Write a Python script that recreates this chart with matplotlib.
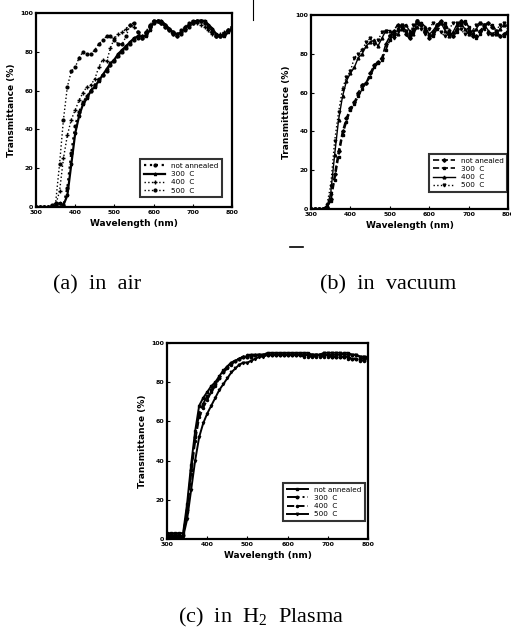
import matplotlib
matplotlib.use("Agg")
import matplotlib.pyplot as plt
from matplotlib.lines import Line2D

W, H = 511, 630

# wavelength grid (nm), shared by every curve
wavelength = list(range(300, 801, 10))

# ---- (a) in air ----
air_not_annealed = [0, 0, 0, 0, 0, 0, 0, 1, 10, 28, 42, 49, 54, 57, 60, 63, 66, 68, 70, 73,
                    75, 78, 80, 82, 84, 86, 87, 87, 89, 93, 96, 96, 95, 93, 91, 89, 88, 89, 91, 93,
                    95, 96, 96, 95, 93, 90, 88, 88, 89, 91, 93]
air_300 = [0, 0, 0, 0, 0, 1, 2, 1, 6, 22, 38, 47, 53, 56, 60, 62, 65, 68, 71, 74,
           76, 79, 81, 83, 85, 87, 88, 88, 88, 91, 95, 96, 96, 94, 92, 90, 89, 90, 92, 94,
           95, 96, 96, 96, 94, 92, 89, 88, 88, 90, 92]
air_400 = [0, 0, 0, 0, 0, 1, 8, 25, 37, 45, 50, 55, 59, 62, 63, 66, 72, 76, 75, 82,
           87, 89, 90, 92, 94, 93, 90, 88, 90, 93, 95, 96, 95, 93, 91, 89, 88, 90, 92, 94,
           95, 95, 94, 93, 91, 89, 88, 89, 90, 91, 92]
air_500 = [0, 0, 0, 0, 1, 2, 22, 45, 62, 70, 72, 77, 80, 79, 79, 81, 84, 86, 88, 88,
           86, 84, 84, 88, 94, 95, 90, 87, 90, 94, 96, 96, 95, 94, 92, 90, 89, 91, 93, 95,
           96, 96, 96, 95, 93, 90, 88, 88, 89, 91, 92]

# ---- (b) in vacuum ----
vac_not_annealed = [0, 0, 0, 0, 1, 5, 18, 30, 40, 47, 52, 55, 60, 64, 65, 70, 74, 76, 78, 85,
                    89, 92, 95, 94, 90, 88, 93, 97, 95, 91, 88, 90, 95, 97, 94, 90, 89, 93, 97, 96,
                    92, 89, 89, 92, 95, 96, 94, 91, 89, 90, 92]
vac_300 = [0, 0, 0, 0, 1, 4, 15, 27, 38, 45, 51, 54, 58, 62, 65, 68, 73, 75, 77, 82,
           87, 90, 93, 95, 92, 89, 91, 96, 96, 93, 89, 89, 93, 96, 96, 92, 89, 91, 95, 97,
           94, 90, 88, 90, 94, 96, 95, 92, 89, 89, 91]
vac_400 = [0, 0, 0, 0, 1, 8, 28, 46, 58, 66, 70, 73, 78, 80, 84, 86, 87, 84, 88, 92,
           92, 89, 90, 93, 95, 92, 90, 94, 96, 94, 90, 92, 95, 96, 92, 89, 91, 95, 96, 93,
           90, 90, 93, 96, 95, 92, 90, 90, 93, 95, 94]
vac_500 = [0, 0, 0, 0, 2, 12, 35, 50, 62, 68, 71, 78, 80, 82, 86, 88, 85, 87, 91, 92,
           89, 88, 92, 95, 92, 90, 95, 97, 93, 90, 93, 96, 95, 91, 89, 92, 96, 96, 93, 90,
           90, 92, 95, 96, 93, 90, 90, 92, 95, 96, 95]

# ---- (c) in H2 plasma ----
h2_not_annealed = [3, 3, 3, 3, 3, 18, 38, 55, 68, 72, 75, 78, 80, 83, 86, 88, 90, 91, 92, 93,
                   93, 94, 94, 94, 94, 95, 95, 95, 95, 95, 95, 95, 95, 95, 95, 95, 94, 94, 94, 94,
                   94, 94, 94, 94, 95, 95, 94, 94, 93, 93, 92]
h2_300 = [2, 2, 2, 2, 2, 15, 35, 52, 64, 69, 73, 76, 79, 82, 85, 88, 90, 91, 92, 93,
          93, 93, 94, 94, 94, 94, 94, 94, 94, 94, 94, 94, 94, 94, 94, 94, 94, 94, 94, 94,
          94, 93, 93, 93, 93, 93, 92, 92, 92, 92, 92]
h2_400 = [1, 1, 1, 1, 2, 14, 33, 50, 62, 67, 71, 75, 78, 82, 85, 87, 89, 91, 92, 93,
          94, 94, 94, 94, 94, 94, 94, 94, 94, 94, 94, 94, 94, 94, 93, 93, 93, 93, 93, 93,
          93, 93, 93, 93, 93, 92, 92, 92, 91, 91, 91]
h2_500 = [1, 1, 1, 1, 1, 10, 25, 40, 52, 59, 64, 68, 72, 76, 79, 82, 85, 87, 89, 90,
          90, 91, 92, 93, 93, 94, 94, 94, 94, 94, 94, 94, 94, 94, 94, 94, 94, 94, 94, 95,
          95, 95, 95, 95, 94, 94, 94, 94, 93, 93, 93]

x_ticks = [300, 400, 500, 600, 700, 800]
y_ticks = [0, 20, 40, 60, 80, 100]

plt.rcParams["mathtext.fontset"] = "custom"
plt.rcParams["mathtext.rm"] = "Liberation Serif"

fig = plt.figure(figsize=(W / 100, H / 100), dpi=100)


def px_axes(left, top, right, bottom):
    return fig.add_axes([left / W, 1 - bottom / H, (right - left) / W, (bottom - top) / H])


def style_axes(ax, weight="bold"):
    ax.set_xlim(300, 800)
    ax.set_ylim(0, 100)
    ax.set_xticks(x_ticks)
    ax.set_yticks(y_ticks)
    ax.tick_params(labelsize=4.5, length=2, width=0.8, pad=2, direction="in")
    for lab in ax.get_xticklabels() + ax.get_yticklabels():
        lab.set_fontweight(weight)
    for sp in ax.spines.values():
        sp.set_linewidth(1.6)
    ax.set_xlabel("Wavelength (nm)", fontsize=6.5, fontweight="bold", labelpad=3)
    ax.set_ylabel("Transmittance (%)", fontsize=6.5, fontweight="bold", labelpad=3)


def add_legend(ax, anchor):
    leg = ax.legend(loc="lower right", bbox_to_anchor=anchor, borderaxespad=0,
                    fontsize=5.2, frameon=True, fancybox=False, handlelength=3.0,
                    labelspacing=0.3, borderpad=0.5, handletextpad=0.8)
    leg.get_frame().set_edgecolor("black")
    leg.get_frame().set_linewidth(1.5)


# (a)
ax_a = px_axes(36, 13, 232, 207)
ax_a.plot(wavelength, air_not_annealed, color="black", ls=":", lw=1.6, marker="o", ms=2, label="not annealed")
ax_a.plot(wavelength, air_300, color="black", ls="-", lw=1.6, marker="*", ms=2.5, label="300  C")
ax_a.plot(wavelength, air_400, color="black", ls=":", lw=1.0, marker="+", ms=3, label="400  C")
ax_a.plot(wavelength, air_500, color="black", ls=":", lw=1.0, marker="o", ms=2, label="500  C")
style_axes(ax_a)
add_legend(ax_a, (0.95, 0.05))

# (b)
ax_b = px_axes(311, 15, 508, 209)
ax_b.plot(wavelength, vac_not_annealed, color="black", ls="--", lw=1.2, marker="D", ms=1.8, label="not anealed")
ax_b.plot(wavelength, vac_300, color="black", ls="--", lw=1.2, marker="s", ms=1.8, label="300  C")
ax_b.plot(wavelength, vac_400, color="black", ls="-", lw=1.0, marker="^", ms=2, label="400  C")
ax_b.plot(wavelength, vac_500, color="black", ls=":", lw=1.0, marker="v", ms=2, label="500  C")
style_axes(ax_b)
add_legend(ax_b, (0.995, 0.088))

# (c)
ax_c = px_axes(167, 343, 368, 539)
ax_c.plot(wavelength, h2_not_annealed, color="black", ls="-", lw=1.4, marker="s", ms=1.8, label="not annealed")
ax_c.plot(wavelength, h2_300, color="black", ls="-.", lw=1.4, marker="o", ms=1.8, label="300  C")
ax_c.plot(wavelength, h2_400, color="black", ls="--", lw=1.4, marker="o", ms=1.5, label="400  C")
ax_c.plot(wavelength, h2_500, color="black", ls="-", lw=1.4, marker="v", ms=1.8, label="500  C")
style_axes(ax_c)
add_legend(ax_c, (0.985, 0.092))

serif = ["Liberation Serif", "DejaVu Serif"]
fig.text(97 / W, 1 - 285 / H, "(a)  in  air", ha="center", va="center", fontsize=16, family=serif)
fig.text(388 / W, 1 - 285 / H, "(b)  in  vacuum", ha="center", va="center", fontsize=16, family=serif)
fig.text(261 / W, 1 - 617 / H, "(c)  in  H$_{2}$  Plasma", ha="center", va="center", fontsize=16, family=serif)

# scan marks
fig.add_artist(Line2D([253 / W, 253 / W], [1 - 0 / H, 1 - 20 / H], color="black", lw=0.8))
fig.add_artist(Line2D([290 / W, 303 / W], [1 - 247 / H, 1 - 247 / H], color="black", lw=1.2))

fig.savefig("out.png", dpi=100)
